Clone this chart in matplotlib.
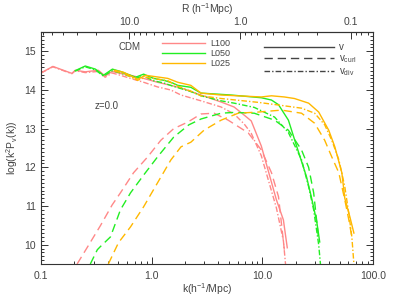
import numpy as np
import matplotlib
matplotlib.use("Agg")
import matplotlib.pyplot as plt
from matplotlib.lines import Line2D
from matplotlib.ticker import LogLocator, FixedLocator, FuncFormatter, MultipleLocator, NullFormatter

plt.rcParams['font.family'] = ['Liberation Sans', 'DejaVu Sans']
plt.rcParams['mathtext.default'] = 'regular'

# ---- data: k [h/Mpc], log(k^2 P_v(k)) ----
# L100
k100_v = [0.1, 0.128, 0.19, 0.204, 0.251, 0.33, 0.38, 0.44, 0.522, 0.644, 0.846, 1.13, 1.49,
          1.84, 2.79, 4.24, 5.56, 6.86, 7.94, 9.79, 13.4, 15.5, 16.8]
p100_v = [14.44, 14.61, 14.43, 14.51, 14.47, 14.51, 14.36, 14.48, 14.43, 14.38, 14.3, 14.2, 14.12,
          14.05, 13.87, 13.69, 13.56, 13.35, 13.2, 12.55, 11.16, 10.64, 9.92]
k100_div = [0.1, 0.128, 0.19, 0.204, 0.251, 0.33, 0.38, 0.44, 0.522, 0.644, 0.846, 1.13, 1.49,
            1.84, 2.79, 4.24, 5.56, 6.86, 7.94, 9.79, 13.4, 15.5, 16.2]
p100_div = [14.44, 14.6, 14.42, 14.5, 14.45, 14.48, 14.33, 14.44, 14.38, 14.3, 14.2, 14.08, 14.0,
            13.87, 13.72, 13.56, 13.38, 13.12, 12.88, 12.3, 10.95, 10.1, 9.5]
k100_curl = [0.212, 0.267, 0.344, 0.44, 0.522, 0.686, 0.92, 1.21, 1.58, 2.12, 2.79,
             3.66, 4.91, 7.46, 9.79, 12.1, 14.0, 15.8]
p100_curl = [9.5, 9.97, 10.49, 11.03, 11.34, 11.86, 12.27, 12.7, 13.0, 13.17, 13.38,
             13.4, 13.22, 12.89, 12.45, 11.86, 11.24, 9.87]

# L050
k050_v = [0.204, 0.251, 0.31, 0.366, 0.442, 0.522, 0.716, 0.846, 1.04, 1.29, 1.55, 1.72, 2.26,
          2.79, 5.23, 9.79, 12.1, 14.0, 17.2, 20.4, 25.1, 27.9, 31.0, 33.0]
p050_v = [14.5, 14.62, 14.54, 14.38, 14.54, 14.48, 14.33, 14.41, 14.3, 14.25, 14.18, 14.12, 14.07,
          13.92, 13.87, 13.8, 13.74, 13.62, 13.22, 12.55, 11.75, 11.2, 10.6, 10.07]
k050_div = [0.204, 0.251, 0.31, 0.366, 0.442, 0.522, 0.716, 0.846, 1.04, 1.29, 1.55, 2.26, 2.79,
            4.24, 5.56, 8.45, 12.9, 17.2, 22.6, 26.2, 29.1, 32.3, 33.5]
p050_div = [14.49, 14.6, 14.52, 14.36, 14.5, 14.44, 14.3, 14.36, 14.24, 14.18, 14.1, 13.96, 13.85,
            13.72, 13.66, 13.55, 13.3, 12.9, 12.2, 11.5, 10.9, 10.0, 9.5]
k050_curl = [0.279, 0.323, 0.344, 0.424, 0.522, 0.644, 0.846, 1.13, 1.58, 2.17, 2.79, 4.24,
             5.56, 8.45, 12.9, 17.2, 22.6, 26.2, 29.1, 32.3]
p050_curl = [9.5, 9.87, 9.95, 10.2, 10.9, 11.34, 11.8, 12.27, 12.78, 13.1, 13.25, 13.4,
             13.42, 13.4, 13.22, 12.96, 12.45, 12.0, 11.34, 10.13]

# L025
k025_v = [0.461, 0.556, 0.746, 0.881, 1.40, 1.72, 2.26, 2.79, 4.24, 9.79, 12.1, 15.8, 19.5,
          26.2, 32.3, 39.8, 45.2, 52.3, 55.6, 61.8, 67.2]
p025_v = [14.51, 14.46, 14.28, 14.38, 14.3, 14.2, 14.12, 13.92, 13.87, 13.82, 13.85, 13.82, 13.78,
          13.66, 13.43, 12.96, 12.53, 11.86, 11.2, 10.72, 10.3]
k025_div = [0.461, 0.556, 0.746, 0.881, 1.40, 1.72, 2.26, 2.79, 4.24, 9.2, 15.0, 22.6, 29.7,
            36.6, 42.4, 49.1, 55.6, 60.5, 64.4, 67.2]
p025_div = [14.49, 14.43, 14.25, 14.33, 14.24, 14.1, 13.97, 13.85, 13.78, 13.68, 13.6, 13.53, 13.4,
            13.1, 12.7, 12.2, 11.5, 10.8, 10.2, 9.5]
k025_curl = [0.406, 0.501, 0.644, 0.846, 1.13, 1.49, 1.84, 2.26, 2.97, 4.24, 6.05, 9.2, 14.9,
             22.6, 29.7, 36.6, 42.4, 49.1, 55.6, 60.5, 64.4]
p025_curl = [9.5, 10.05, 10.46, 10.98, 11.6, 12.19, 12.53, 12.65, 12.96, 13.22, 13.4, 13.43, 13.48,
             13.4, 13.14, 12.7, 12.27, 11.86, 11.16, 10.64, 10.2]

boxes = ['L100', 'L050', 'L025']
colors = ['#FF8888', '#22EE22', '#FFB800']
series = [
    (k100_v, p100_v, k100_curl, p100_curl, k100_div, p100_div),
    (k050_v, p050_v, k050_curl, p050_curl, k050_div, p050_div),
    (k025_v, p025_v, k025_curl, p025_curl, k025_div, p025_div),
]

DASH = (6, 3.5)
DASHDOT = (4, 1.5, 1, 1.5)
TXT = '#444444'

fig = plt.figure(figsize=(4.15, 2.97), dpi=100)
ax = fig.add_axes([41 / 415, 1 - 264 / 297, 332 / 415, 232 / 297])

for (kv, pv, kc, pc, kd, pd), col in zip(series, colors):
    ax.plot(kv, pv, color=col, lw=1.0)
    ax.plot(kc, pc, color=col, lw=1.0, dashes=DASH)
    ax.plot(kd, pd, color=col, lw=1.0, dashes=DASHDOT)

ax.set_xscale('log')
ax.set_xlim(0.1, 100)
ax.set_ylim(9.5, 15.5)

ax.xaxis.set_major_locator(FixedLocator([0.1, 1, 10, 100]))
ax.xaxis.set_major_formatter(FuncFormatter(lambda v, p: {0.1: '0.1', 1: '1.0', 10: '10.0', 100: '100.0'}.get(round(v, 1), '')))
ax.xaxis.set_minor_locator(LogLocator(subs=np.arange(2, 10)))
ax.xaxis.set_minor_formatter(NullFormatter())
ax.yaxis.set_major_locator(MultipleLocator(1))
ax.yaxis.set_minor_locator(MultipleLocator(0.1))

ax.tick_params(which='both', direction='in', right=True, top=False, colors='#333333',
               labelcolor=TXT, labelsize=7.5, width=0.7)
ax.tick_params(which='major', length=5)
ax.tick_params(which='minor', length=2.5)
ax.tick_params(axis='x', pad=5)
for s in ax.spines.values():
    s.set_color('#333333')
    s.set_linewidth(0.8)

ax.set_xlabel('k(h$^{-1}$/Mpc)', fontsize=7.5, color=TXT, labelpad=0)
ax.set_ylabel('log(k$^2$P$_v$(k))', fontsize=7.5, color=TXT, labelpad=3)

sec = ax.secondary_xaxis('top', functions=(lambda k: 2 * np.pi / k, lambda r: 2 * np.pi / r))
sec.xaxis.set_major_locator(FixedLocator([0.1, 1, 10]))
sec.xaxis.set_major_formatter(FuncFormatter(lambda v, p: {0.1: '0.1', 1: '1.0', 10: '10.0'}.get(round(v, 1), '')))
sec.xaxis.set_minor_locator(LogLocator(subs=np.arange(2, 10)))
sec.xaxis.set_minor_formatter(NullFormatter())
sec.tick_params(which='both', direction='in', colors='#333333', labelcolor=TXT, labelsize=7.5, width=0.7)
sec.tick_params(which='major', length=5)
sec.tick_params(which='minor', length=2.5)
sec.set_xlabel('R (h$^{-1}$Mpc)', fontsize=7.5, color=TXT, labelpad=3)
sec.spines['top'].set_color('#333333')

ax.text(0.232, 0.935, 'CDM', transform=ax.transAxes, fontsize=7, color=TXT, va='center')
ax.text(0.163, 0.68, 'z=0.0', transform=ax.transAxes, fontsize=7, color=TXT, va='center')

h1 = [Line2D([], [], color=c, lw=1.0) for c in colors]
leg1 = ax.legend(h1, boxes, loc='upper left', bbox_to_anchor=(0.345, 0.995), frameon=False,
                 fontsize=6.5, handlelength=4.8, handletextpad=0.6, labelspacing=0.08,
                 borderaxespad=0.3, labelcolor=TXT)
ax.add_artist(leg1)

h2 = [Line2D([], [], color='#444444', lw=1.0),
      Line2D([], [], color='#444444', lw=1.0, dashes=DASH),
      Line2D([], [], color='#444444', lw=1.0, dashes=DASHDOT)]
ax.legend(h2, ['v', 'v$_{curl}$', 'v$_{div}$'], loc='upper left', bbox_to_anchor=(0.65, 0.985),
          frameon=False, fontsize=7, handlelength=7.2, handletextpad=0.6, labelspacing=0.1,
          borderaxespad=0.3, labelcolor=TXT)

fig.savefig('out.png', dpi=100)
